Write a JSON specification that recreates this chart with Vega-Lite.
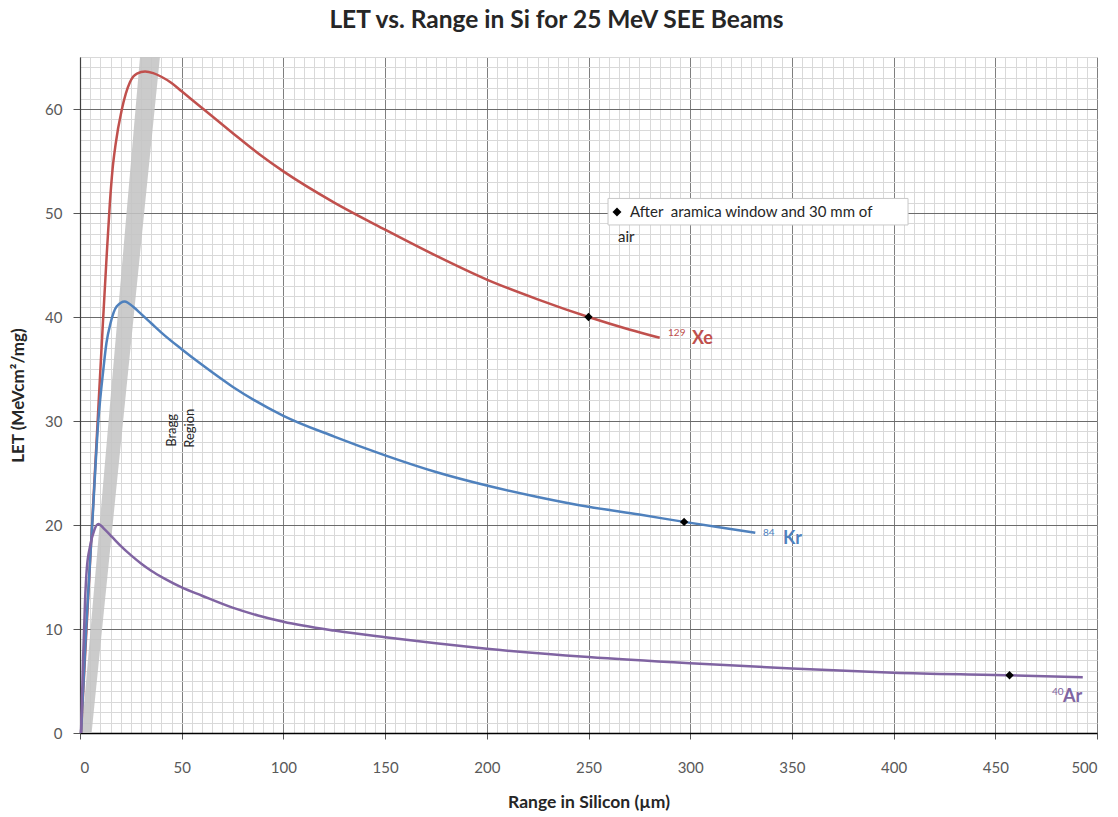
{
  "$schema": "https://vega.github.io/schema/vega-lite/v6.json",
  "width": 1017,
  "height": 676,
  "autosize": {"type": "none"},
  "padding": {"left": 80, "top": 57, "right": 21, "bottom": 84},
  "background": "white",
  "title": {"text": "LET vs. Range in Si for 25 MeV SEE Beams", "font": "Lato", "fontSize": 24.5, "fontWeight": "bold", "color": "#262626", "anchor": "middle", "dx": -32, "offset": 24},
  "config": {"view": {"stroke": null}, "font": "Lato"},
  "datasets": {
    "band": [
      {"let": 0, "left": 0.8, "right": 5.7},
      {"let": 65, "left": 29.5, "right": 39.3}
    ],
    "curves": [
      {"ion": "Xe", "range": 0.5, "let": 0},
      {"ion": "Xe", "range": 4, "let": 13},
      {"ion": "Xe", "range": 8, "let": 27.5},
      {"ion": "Xe", "range": 11, "let": 38.5},
      {"ion": "Xe", "range": 13, "let": 45.5},
      {"ion": "Xe", "range": 14.7, "let": 51},
      {"ion": "Xe", "range": 16, "let": 54.2},
      {"ion": "Xe", "range": 17.5, "let": 56.6},
      {"ion": "Xe", "range": 20.5, "let": 59.9},
      {"ion": "Xe", "range": 24.6, "let": 62.6},
      {"ion": "Xe", "range": 28, "let": 63.4},
      {"ion": "Xe", "range": 32, "let": 63.6},
      {"ion": "Xe", "range": 36, "let": 63.45},
      {"ion": "Xe", "range": 40, "let": 63.1},
      {"ion": "Xe", "range": 45, "let": 62.5},
      {"ion": "Xe", "range": 50, "let": 61.7},
      {"ion": "Xe", "range": 60, "let": 60.1},
      {"ion": "Xe", "range": 75, "let": 57.7},
      {"ion": "Xe", "range": 88.5, "let": 55.6},
      {"ion": "Xe", "range": 100, "let": 54.0},
      {"ion": "Xe", "range": 125, "let": 51.0},
      {"ion": "Xe", "range": 150, "let": 48.4},
      {"ion": "Xe", "range": 175, "let": 45.9},
      {"ion": "Xe", "range": 200, "let": 43.6},
      {"ion": "Xe", "range": 225, "let": 41.7},
      {"ion": "Xe", "range": 250, "let": 40},
      {"ion": "Xe", "range": 270, "let": 38.8},
      {"ion": "Xe", "range": 285, "let": 38},
      {"ion": "Kr", "range": 0.5, "let": 0},
      {"ion": "Kr", "range": 3, "let": 10},
      {"ion": "Kr", "range": 6, "let": 20},
      {"ion": "Kr", "range": 9, "let": 30},
      {"ion": "Kr", "range": 11.5, "let": 35},
      {"ion": "Kr", "range": 13, "let": 37.5},
      {"ion": "Kr", "range": 15, "let": 39.4},
      {"ion": "Kr", "range": 18, "let": 41},
      {"ion": "Kr", "range": 22, "let": 41.5},
      {"ion": "Kr", "range": 26, "let": 41.0},
      {"ion": "Kr", "range": 30, "let": 40.3},
      {"ion": "Kr", "range": 35, "let": 39.4},
      {"ion": "Kr", "range": 40, "let": 38.5},
      {"ion": "Kr", "range": 50, "let": 36.9},
      {"ion": "Kr", "range": 60, "let": 35.4},
      {"ion": "Kr", "range": 75, "let": 33.3},
      {"ion": "Kr", "range": 100, "let": 30.5},
      {"ion": "Kr", "range": 125, "let": 28.5},
      {"ion": "Kr", "range": 150, "let": 26.7},
      {"ion": "Kr", "range": 175, "let": 25.1},
      {"ion": "Kr", "range": 200, "let": 23.8},
      {"ion": "Kr", "range": 225, "let": 22.7},
      {"ion": "Kr", "range": 250, "let": 21.75},
      {"ion": "Kr", "range": 275, "let": 21.0},
      {"ion": "Kr", "range": 297, "let": 20.3},
      {"ion": "Kr", "range": 315, "let": 19.75},
      {"ion": "Kr", "range": 332, "let": 19.25},
      {"ion": "Ar", "range": 0.5, "let": 0},
      {"ion": "Ar", "range": 1.5, "let": 7},
      {"ion": "Ar", "range": 2.5, "let": 12.8},
      {"ion": "Ar", "range": 3.3, "let": 15.7},
      {"ion": "Ar", "range": 5, "let": 18},
      {"ion": "Ar", "range": 7, "let": 19.5},
      {"ion": "Ar", "range": 9, "let": 20.1},
      {"ion": "Ar", "range": 12, "let": 19.6},
      {"ion": "Ar", "range": 16, "let": 18.8},
      {"ion": "Ar", "range": 20, "let": 18.0},
      {"ion": "Ar", "range": 25, "let": 17.1},
      {"ion": "Ar", "range": 30, "let": 16.3},
      {"ion": "Ar", "range": 35, "let": 15.6},
      {"ion": "Ar", "range": 42, "let": 14.8},
      {"ion": "Ar", "range": 50, "let": 14.0},
      {"ion": "Ar", "range": 60, "let": 13.2},
      {"ion": "Ar", "range": 75, "let": 12.05},
      {"ion": "Ar", "range": 87.5, "let": 11.3},
      {"ion": "Ar", "range": 100, "let": 10.7},
      {"ion": "Ar", "range": 125, "let": 9.85},
      {"ion": "Ar", "range": 150, "let": 9.2},
      {"ion": "Ar", "range": 175, "let": 8.62},
      {"ion": "Ar", "range": 200, "let": 8.1},
      {"ion": "Ar", "range": 250, "let": 7.3},
      {"ion": "Ar", "range": 300, "let": 6.7},
      {"ion": "Ar", "range": 350, "let": 6.2},
      {"ion": "Ar", "range": 400, "let": 5.8},
      {"ion": "Ar", "range": 457, "let": 5.55},
      {"ion": "Ar", "range": 493, "let": 5.35}
    ],
    "markers": [
      {"range": 250, "let": 40},
      {"range": 297, "let": 20.3},
      {"range": 457, "let": 5.55}
    ],
    "labels": [
      {"ion": "Xe", "mass": "129", "mx": 289.1, "my": 38.5, "nx": 300.9, "ny": 37.9},
      {"ion": "Kr", "mass": "84", "mx": 335.8, "my": 19.2, "nx": 345.6, "ny": 18.65},
      {"ion": "Ar", "mass": "40", "mx": 477.9, "my": 3.9, "nx": 483.3, "ny": 3.5}
    ],
    "notebox": [
      {"x1": 259.6, "x2": 407.1, "y1": 48.85, "y2": 51.4}
    ],
    "notemark": [
      {"range": 264, "let": 50.1}
    ],
    "notetext": [
      {"tx": 270.4, "ty": 50.1, "t": "After \u00a0aramica window and 30 mm of"},
      {"tx": 264.5, "ty": 47.7, "t": "air"}
    ],
    "bragg": [
      {"bx": 45.2, "by": 29.1, "t": "Bragg"},
      {"bx": 54.1, "by": 29.3, "t": "Region"}
    ]
  },
  "resolve": {"axis": {"x": "independent", "y": "independent"}},
  "layer": [
    {
      "data": {"name": "band"},
      "mark": {"type": "area", "orient": "horizontal", "color": "#c4c4c4", "opacity": 0.88, "clip": true},
      "encoding": {
        "y": {"field": "let", "type": "quantitative", "scale": {"domain": [0, 65], "nice": false},
          "axis": {"orient": "right", "values": [0,1,2,3,4,5,6,7,8,9,10,11,12,13,14,15,16,17,18,19,20,21,22,23,24,25,26,27,28,29,30,31,32,33,34,35,36,37,38,39,40,41,42,43,44,45,46,47,48,49,50,51,52,53,54,55,56,57,58,59,60,61,62,63,64,65], "grid": true, "gridColor": "#d9d9d9", "gridWidth": 1, "labels": false, "ticks": false, "domain": false, "title": null}},
        "x": {"field": "left", "type": "quantitative", "scale": {"domain": [0, 500], "nice": false},
          "axis": {"orient": "top", "values": [0,5,10,15,20,25,30,35,40,45,50,55,60,65,70,75,80,85,90,95,100,105,110,115,120,125,130,135,140,145,150,155,160,165,170,175,180,185,190,195,200,205,210,215,220,225,230,235,240,245,250,255,260,265,270,275,280,285,290,295,300,305,310,315,320,325,330,335,340,345,350,355,360,365,370,375,380,385,390,395,400,405,410,415,420,425,430,435,440,445,450,455,460,465,470,475,480,485,490,495,500], "grid": true, "gridColor": "#d9d9d9", "gridWidth": 1, "labels": false, "ticks": false, "domain": false, "title": null}},
        "x2": {"field": "right"}
      }
    },
    {
      "layer": [
        {
          "data": {"name": "curves"},
          "mark": {"type": "line", "strokeWidth": 2.5, "interpolate": "monotone"},
          "encoding": {
            "x": {"field": "range", "type": "quantitative", "title": "Range in Silicon (µm)", "scale": {"domain": [0, 500], "nice": false},
              "axis": {"orient": "bottom", "values": [0,50,100,150,200,250,300,350,400,450,500], "grid": true, "gridColor": "#7f7f7f", "gridWidth": 1, "domain": true, "domainColor": "#000000", "domainWidth": 1.5, "ticks": true, "tickColor": "#555555", "tickSize": 6, "labelFont": "Lato", "labelFontSize": 15, "labelColor": "#595959", "labelPadding": 21, "title": "Range in Silicon (µm)", "titleFont": "Lato", "titleFontSize": 17.5, "titleFontWeight": "bold", "titleColor": "#262626", "titlePadding": 18}},
            "y": {"field": "let", "type": "quantitative", "title": "LET (MeVcm²/mg)", "scale": {"domain": [0, 65], "nice": false},
              "axis": {"orient": "left", "values": [0,10,20,30,40,50,60], "grid": true, "gridColor": "#6b6b6b", "gridWidth": 1, "domain": true, "domainColor": "#404040", "domainWidth": 1.2, "ticks": true, "tickColor": "#555555", "tickSize": 7, "labelFont": "Lato", "labelFontSize": 15, "labelColor": "#595959", "labelPadding": 11, "title": "LET (MeVcm²/mg)", "titleFont": "Lato", "titleFontSize": 17, "titleFontWeight": "bold", "titleColor": "#262626", "titlePadding": 17}},
            "color": {"field": "ion", "type": "nominal", "scale": {"domain": ["Xe", "Kr", "Ar"], "range": ["#c0504d", "#4f81bd", "#8064a2"]}, "legend": null}
          }
        },
        {
          "data": {"name": "markers"},
          "mark": {"type": "point", "shape": "diamond", "filled": true, "color": "#000000", "size": 70, "opacity": 1},
          "encoding": {
            "x": {"field": "range", "type": "quantitative", "title": "Range in Silicon (µm)"},
            "y": {"field": "let", "type": "quantitative", "title": "LET (MeVcm²/mg)"}
          }
        },
        {
          "data": {"name": "labels"},
          "mark": {"type": "text", "align": "left", "baseline": "middle", "fontSize": 10},
          "encoding": {
            "x": {"field": "mx", "type": "quantitative", "title": "Range in Silicon (µm)"},
            "y": {"field": "my", "type": "quantitative", "title": "LET (MeVcm²/mg)"},
            "text": {"field": "mass"},
            "color": {"field": "ion", "type": "nominal", "legend": null}
          }
        },
        {
          "data": {"name": "labels"},
          "mark": {"type": "text", "align": "left", "baseline": "middle", "fontSize": 18, "fontWeight": "bold"},
          "encoding": {
            "x": {"field": "nx", "type": "quantitative", "title": "Range in Silicon (µm)"},
            "y": {"field": "ny", "type": "quantitative", "title": "LET (MeVcm²/mg)"},
            "text": {"field": "ion"},
            "color": {"field": "ion", "type": "nominal", "legend": null}
          }
        },
        {
          "data": {"name": "notebox"},
          "mark": {"type": "rect", "fill": "#ffffff", "stroke": "#c8c8c8", "strokeWidth": 1},
          "encoding": {
            "x": {"field": "x1", "type": "quantitative", "title": "Range in Silicon (µm)"},
            "x2": {"field": "x2", "title": "Range in Silicon (µm)"},
            "y": {"field": "y1", "type": "quantitative", "title": "LET (MeVcm²/mg)"},
            "y2": {"field": "y2", "title": "LET (MeVcm²/mg)"}
          }
        },
        {
          "data": {"name": "notemark"},
          "mark": {"type": "point", "shape": "diamond", "filled": true, "color": "#000000", "size": 80, "opacity": 1},
          "encoding": {
            "x": {"field": "range", "type": "quantitative", "title": "Range in Silicon (µm)"},
            "y": {"field": "let", "type": "quantitative", "title": "LET (MeVcm²/mg)"}
          }
        },
        {
          "data": {"name": "notetext"},
          "mark": {"type": "text", "align": "left", "baseline": "middle", "fontSize": 15, "font": "Lato", "color": "#262626"},
          "encoding": {
            "x": {"field": "tx", "type": "quantitative", "title": "Range in Silicon (µm)"},
            "y": {"field": "ty", "type": "quantitative", "title": "LET (MeVcm²/mg)"},
            "text": {"field": "t"}
          }
        },
        {
          "data": {"name": "bragg"},
          "mark": {"type": "text", "align": "center", "baseline": "middle", "angle": 270, "fontSize": 13, "font": "Lato", "color": "#262626"},
          "encoding": {
            "x": {"field": "bx", "type": "quantitative", "title": "Range in Silicon (µm)"},
            "y": {"field": "by", "type": "quantitative", "title": "LET (MeVcm²/mg)"},
            "text": {"field": "t"}
          }
        }
      ]
    }
  ]
}
